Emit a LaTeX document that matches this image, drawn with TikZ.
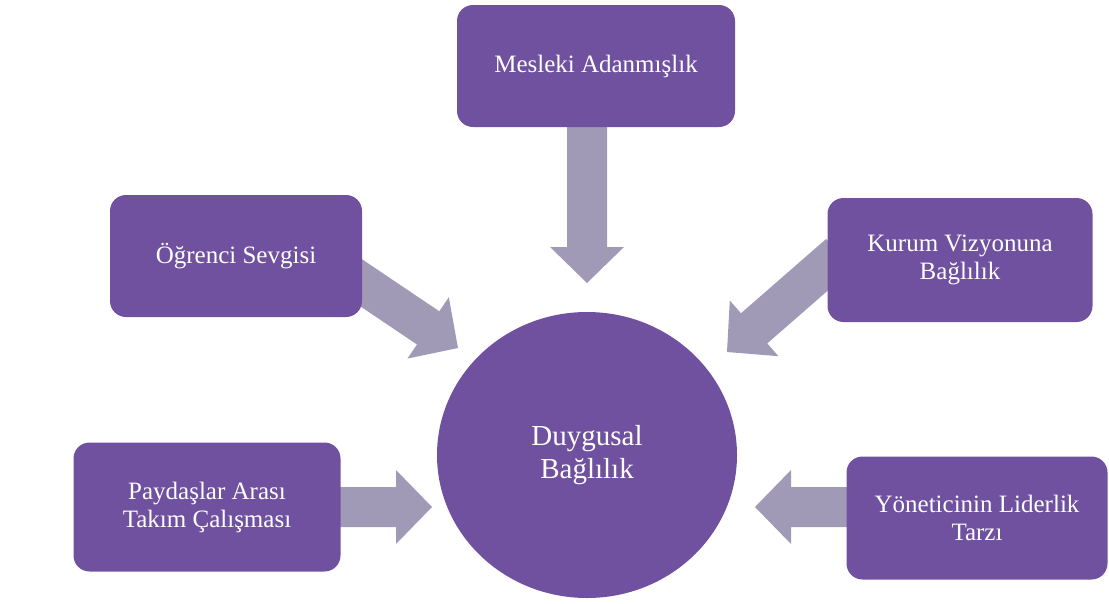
\documentclass[tikz,border=0pt]{standalone}
\usepackage{fontspec}
\setmainfont{Liberation Serif}
\usetikzlibrary{arrows.meta, positioning, calc, backgrounds, shapes.geometric}
\definecolor{factor}{HTML}{7051A0}
\definecolor{flow}{HTML}{A19AB6}

% wide block arrow from #1 to #2
\newcommand{\flowarrow}[2]{%
  \fill[flow] let \p1=(#1), \p2=(#2),
    \n1={atan2(\y2-\y1,\x2-\x1)}, \n2={veclen(\x2-\x1,\y2-\y1)} in
    [shift={(\p1)}, rotate=\n1]
    (0pt,-20pt) -- (\n2-36pt,-20pt) -- (\n2-36pt,-37pt) -- (\n2,0pt)
    -- (\n2-36pt,37pt) -- (\n2-36pt,20pt) -- (0pt,20pt) -- cycle;
}

\begin{document}
\begin{tikzpicture}[
    x=1pt, y=-1pt,
    box/.style={fill=factor, rounded corners=16pt, minimum width=262pt, minimum height=122pt,
                inner sep=0pt, align=center, text=white, font=\fontsize{25}{28}\selectfont},
    core/.style={ellipse, fill=factor, minimum width=300pt, minimum height=286pt,
                 inner sep=0pt, align=center, text=white, font=\fontsize{29}{33}\selectfont},
]
    \useasboundingbox (0,0) rectangle (1109,603);

    % Centre
    \node[core] (duygu) at (587,455) {Duygusal\\Bağlılık};

    % Factors
    \node[box, minimum width=278pt] (mesleki) at (596,66) {Mesleki Adanmışlık};
    \node[box, minimum width=252pt] (ogrenci) at (236,256) {Öğrenci Sevgisi};
    \node[box, minimum width=265pt, minimum height=124pt] (kurum) at (960,260) {Kurum Vizyonuna\\Bağlılık};
    \node[box, minimum width=267pt, minimum height=129pt] (paydas) at (207,507) {Paydaşlar Arası\\Takım Çalışması};
    \node[box, minimum width=261pt, minimum height=123pt] (yonetici) at (977,518) {Yöneticinin Liderlik\\Tarzı};

    % Arrow tips
    \coordinate (tipN) at (587,283);
    \coordinate (tipNW) at (458,348);
    \coordinate (tipNE) at (727,352);
    \coordinate (tipW) at (432,507);
    \coordinate (tipE) at (755,507);

    % Arrows
    \begin{scope}[on background layer]
        \flowarrow{mesleki.south -| tipN}{tipN}
        \flowarrow{$(ogrenci.east)+(-20,14)$}{tipNW}
        \flowarrow{$(kurum.west)+(12,-6)$}{tipNE}
        \flowarrow{$(paydas.east)+(-10,0)$}{tipW}
        \flowarrow{$(yonetici.west)+(10,-11)$}{tipE}
    \end{scope}
\end{tikzpicture}
\end{document}
